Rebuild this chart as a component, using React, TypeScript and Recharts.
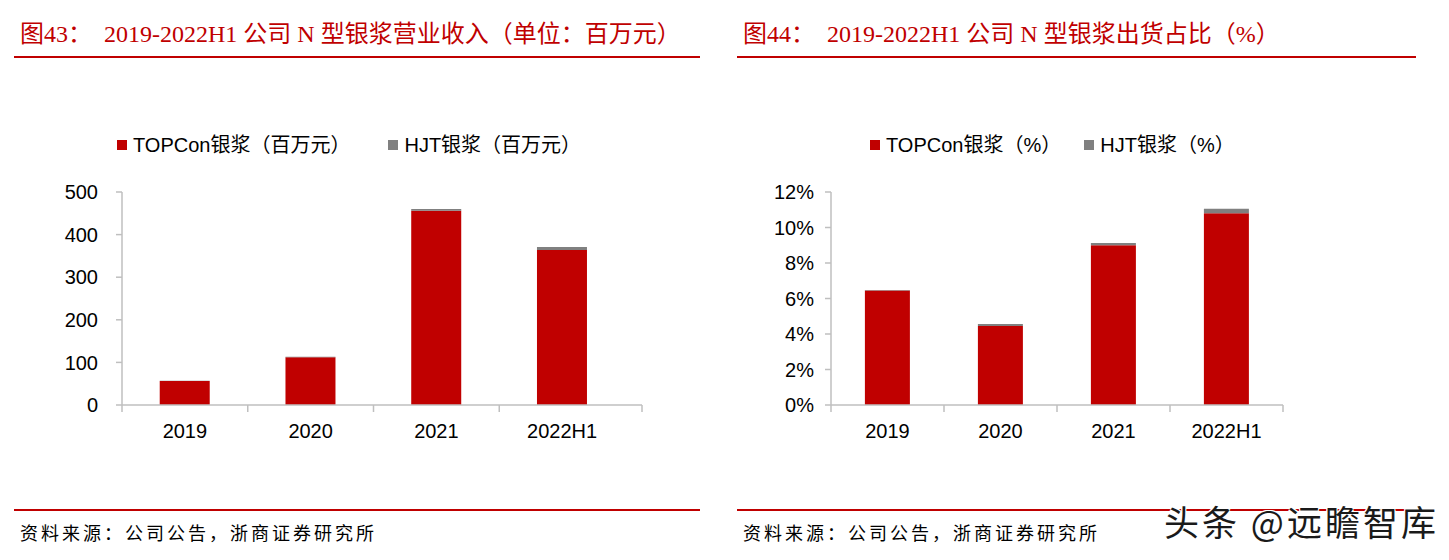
import React from "react";
import { BarChart, Bar, XAxis, YAxis, Legend } from "recharts";

// categories and values
const years = ["2019", "2020", "2021", "2022H1"];
const topconRevenue = [56.5, 112, 456, 364];
const hjtRevenue = [0.4, 1.5, 4, 7];
const revenueTicks = [0, 100, 200, 300, 400, 500];

const topconShare = [6.45, 4.45, 9.0, 10.8];
const hjtShare = [0.03, 0.12, 0.12, 0.25];
const shareTicks = [0, 2, 4, 6, 8, 10, 12];

const seriesOrder = ["topcon", "hjt"];

const RED = "#C00000";
const GREY = "#808080";
const AXIS = "#BFBFBF";
const SANS = '"Liberation Sans", Arial, "Noto Sans CJK SC", sans-serif';
const SERIF = '"Liberation Serif", "Times New Roman", "Noto Sans CJK SC", serif';
const CJK = '"Noto Sans CJK SC", sans-serif';

const revenueData = years.map((year, i) => ({
  year,
  topcon: topconRevenue[i],
  hjt: hjtRevenue[i],
}));

const shareData = years.map((year, i) => ({
  year,
  topcon: topconShare[i],
  hjt: hjtShare[i],
}));

// x tick: label in the middle, small marks on the category borders
function makeTick(band: number, tail: number, margin: number) {
  return function CategoryTick(props: any) {
    const { x, y, payload, index, visibleTicksCount } = props;
    const top = y - margin;
    const left = x - band / 2;
    const last = index === visibleTicksCount - 1;
    return (
      <g>
        <line x1={left} x2={left} y1={top} y2={top + 7} stroke={AXIS} strokeWidth={1.5} />
        {last && (
          <line
            x1={x + band / 2 + tail}
            x2={x + band / 2 + tail}
            y1={top}
            y2={top + 7}
            stroke={AXIS}
            strokeWidth={1.5}
          />
        )}
        <text x={x} y={y} dy="0.71em" textAnchor="middle" fontSize={20} fontFamily={SANS} fill="#000">
          {payload.value}
        </text>
      </g>
    );
  };
}

function makeLegend(gap: number) {
  return function LegendRow(props: any) {
    const items = [...(props.payload || [])].sort(
      (a: any, b: any) => seriesOrder.indexOf(a.dataKey) - seriesOrder.indexOf(b.dataKey)
    );
    return (
      <div style={{ display: "flex", alignItems: "center", fontFamily: SANS, fontSize: 20, lineHeight: "24px", color: "#000", whiteSpace: "nowrap" }}>
        {items.map((p: any) => (
          <div key={p.value} style={{ display: "flex", alignItems: "center", marginRight: gap }}>
            <span style={{ display: "inline-block", width: 10, height: 10, background: p.color, marginRight: 6 }} />
            <span>{p.value}</span>
          </div>
        ))}
      </div>
    );
  };
}

function Header({ left, width, text }: { left: number; width: number; text: string }) {
  return (
    <>
      <div
        style={{
          position: "absolute",
          left: left + 6,
          top: 22,
          fontFamily: SERIF,
          fontSize: 24,
          lineHeight: "24px",
          color: RED,
          whiteSpace: "pre",
        }}
      >
        {text}
      </div>
      <div style={{ position: "absolute", left, top: 56, width, height: 2, background: RED }} />
    </>
  );
}

function Footer({ left, width }: { left: number; width: number }) {
  return (
    <>
      <div style={{ position: "absolute", left, top: 509, width, height: 2, background: RED }} />
      <div
        style={{
          position: "absolute",
          left: left + 6,
          top: 522,
          fontFamily: CJK,
          fontSize: 18,
          lineHeight: "20px",
          letterSpacing: 3,
          color: "#000",
          whiteSpace: "pre",
        }}
      >
        资料来源：公司公告，浙商证券研究所
      </div>
    </>
  );
}

export default function App() {
  return (
    <div style={{ position: "absolute", left: 0, top: 0, width: 1449, height: 560, background: "#fff", overflow: "hidden" }}>
      <Header left={14} width={686} text={"图43：  2019-2022H1 公司 N 型银浆营业收入（单位：百万元）"} />
      <Header left={737} width={679} text={"图44：  2019-2022H1 公司 N 型银浆出货占比（%）"} />

      <div style={{ position: "absolute", left: 0, top: 0 }}>
        <BarChart
          width={700}
          height={470}
          data={revenueData}
          margin={{ top: 192, right: 58, bottom: 25, left: 0 }}
          barCategoryGap="30%"
        >
          <XAxis
            dataKey="year"
            interval={0}
            height={40}
            tickLine={false}
            tickSize={0}
            tickMargin={19}
            padding={{ left: 0, right: 17 }}
            axisLine={{ stroke: AXIS, strokeWidth: 1.5 }}
            tick={makeTick(503 / years.length, 17, 19)}
          />
          <YAxis
            width={122}
            domain={[0, 500]}
            ticks={revenueTicks}
            interval={0}
            tickSize={6}
            tickMargin={18}
            axisLine={{ stroke: AXIS, strokeWidth: 1.5 }}
            tickLine={{ stroke: AXIS, strokeWidth: 1.5 }}
            tick={{ fill: "#000", fontSize: 20, fontFamily: SANS }}
          />
          <Legend
            layout="horizontal"
            verticalAlign="middle"
            align="center"
            content={makeLegend(38)}
            wrapperStyle={{ top: 133, left: 117, width: 560 }}
          />
          <Bar dataKey="topcon" name="TOPCon银浆（百万元）" stackId="a" fill={RED} isAnimationActive={false} />
          <Bar dataKey="hjt" name="HJT银浆（百万元）" stackId="a" fill={GREY} isAnimationActive={false} />
        </BarChart>
      </div>

      <div style={{ position: "absolute", left: 720, top: 0 }}>
        <BarChart
          width={600}
          height={470}
          data={shareData}
          margin={{ top: 192, right: 37, bottom: 25, left: 0 }}
          barCategoryGap="30%"
        >
          <XAxis
            dataKey="year"
            interval={0}
            height={40}
            tickLine={false}
            tickSize={0}
            tickMargin={19}
            axisLine={{ stroke: AXIS, strokeWidth: 1.5 }}
            tick={makeTick(452 / years.length, 0, 19)}
          />
          <YAxis
            width={111}
            domain={[0, 12]}
            ticks={shareTicks}
            interval={0}
            tickSize={6}
            tickMargin={11}
            tickFormatter={(v: number) => `${v}%`}
            axisLine={{ stroke: AXIS, strokeWidth: 1.5 }}
            tickLine={{ stroke: AXIS, strokeWidth: 1.5 }}
            tick={{ fill: "#000", fontSize: 20, fontFamily: SANS }}
          />
          <Legend
            layout="horizontal"
            verticalAlign="middle"
            align="center"
            content={makeLegend(23)}
            wrapperStyle={{ top: 133, left: 150, width: 440 }}
          />
          <Bar dataKey="topcon" name="TOPCon银浆（%）" stackId="a" fill={RED} isAnimationActive={false} />
          <Bar dataKey="hjt" name="HJT银浆（%）" stackId="a" fill={GREY} isAnimationActive={false} />
        </BarChart>
      </div>

      <Footer left={14} width={686} />
      <Footer left={737} width={679} />

      <div
        style={{
          position: "absolute",
          left: 1164,
          top: 502,
          fontFamily: CJK,
          fontSize: 35,
          lineHeight: "38px",
          letterSpacing: 3,
          color: "#1a1a1a",
          whiteSpace: "pre",
          textShadow: "1px 1px 0 #fff, -1px -1px 0 #fff, 1px -1px 0 #fff, -1px 1px 0 #fff",
        }}
      >
        头条 @远瞻智库
      </div>
    </div>
  );
}
